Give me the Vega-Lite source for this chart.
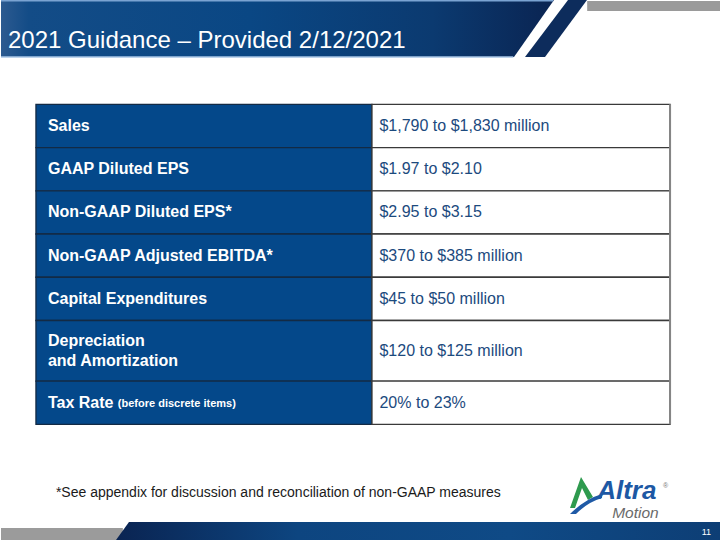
{
  "$schema": "https://vega.github.io/schema/vega-lite/v6.json",
  "width": 720,
  "height": 540,
  "autosize": {"type": "fit", "contains": "padding"},
  "padding": 0,
  "background": "#ffffff",
  "config": {"view": {"stroke": null}, "font": "Liberation Sans", "text": {"font": "Liberation Sans"}},
  "resolve": {"scale": {"y": "independent"}},
  "layer": [
    {
      "data": {"values": [{}]},
      "layer": [
        {
          "mark": {"type": "point", "shape": "M0,0 L553,0 L513,57 L0,57 Z", "size": 4, "filled": true, "opacity": 1, "strokeWidth": 0,
            "fill": {"gradient": "linear", "stops": [
              {"offset": 0, "color": "#2c5a90"}, {"offset": 0.05, "color": "#134c87"}, {"offset": 0.45, "color": "#0a4784"},
              {"offset": 0.78, "color": "#0b3a70"}, {"offset": 1, "color": "#0a2452"}]}},
          "encoding": {
            "x": {"datum": 0, "type": "quantitative", "scale": {"domain": [0, 720], "nice": false, "zero": false}, "axis": null},
            "y": {"datum": 0, "type": "quantitative", "scale": {"domain": [0, 540], "reverse": true, "nice": false, "zero": false}, "axis": null}
          }
        },
        {
          "mark": {"type": "point", "shape": "M567,0 L586,0 L544,57 L524,57 Z", "size": 4, "filled": true, "opacity": 1, "strokeWidth": 0, "fill": "#0d2c5c"},
          "encoding": {
            "x": {"datum": 0, "type": "quantitative", "scale": {"domain": [0, 720], "nice": false, "zero": false}, "axis": null},
            "y": {"datum": 0, "type": "quantitative", "scale": {"domain": [0, 540], "reverse": true, "nice": false, "zero": false}, "axis": null}
          }
        },
        {
          "mark": {"type": "rect", "fill": "#9a9a9a"},
          "encoding": {
            "x": {"datum": 587, "type": "quantitative", "scale": {"domain": [0, 720], "nice": false, "zero": false}, "axis": null},
            "x2": {"datum": 720},
            "y": {"datum": 1, "type": "quantitative", "scale": {"domain": [0, 540], "reverse": true, "nice": false, "zero": false}, "axis": null},
            "y2": {"datum": 11}
          }
        },
        {
          "mark": {"type": "rule", "stroke": "#a9c6e6", "strokeWidth": 1.5},
          "encoding": {
            "x": {"datum": 0, "type": "quantitative", "scale": {"domain": [0, 720], "nice": false, "zero": false}, "axis": null},
            "x2": {"datum": 513},
            "y": {"datum": 57, "type": "quantitative", "scale": {"domain": [0, 540], "reverse": true, "nice": false, "zero": false}, "axis": null}
          }
        },
        {
          "mark": {"type": "rule", "stroke": "#7aa3d2", "strokeWidth": 1.5},
          "encoding": {
            "x": {"datum": 0, "type": "quantitative", "scale": {"domain": [0, 720], "nice": false, "zero": false}, "axis": null},
            "x2": {"datum": 553},
            "y": {"datum": 0.75, "type": "quantitative", "scale": {"domain": [0, 540], "reverse": true, "nice": false, "zero": false}, "axis": null}
          }
        },
        {
          "mark": {"type": "text", "text": "2021 Guidance – Provided 2/12/2021", "align": "left", "baseline": "alphabetic", "fontSize": 24, "color": "#ffffff"},
          "encoding": {
            "x": {"datum": 7, "type": "quantitative", "scale": {"domain": [0, 720], "nice": false, "zero": false}, "axis": null},
            "y": {"datum": 47.5, "type": "quantitative", "scale": {"domain": [0, 540], "reverse": true, "nice": false, "zero": false}, "axis": null}
          }
        },
        {
          "mark": {"type": "text", "text": "*See appendix for discussion and reconciliation of non-GAAP measures", "align": "left", "baseline": "alphabetic", "fontSize": 14, "color": "#1a1a1a"},
          "encoding": {
            "x": {"datum": 55, "type": "quantitative", "scale": {"domain": [0, 720], "nice": false, "zero": false}, "axis": null},
            "y": {"datum": 497, "type": "quantitative", "scale": {"domain": [0, 540], "reverse": true, "nice": false, "zero": false}, "axis": null}
          }
        },
        {
          "mark": {"type": "rect", "fill": "#9b9b9b"},
          "encoding": {
            "x": {"datum": 0, "type": "quantitative", "scale": {"domain": [0, 720], "nice": false, "zero": false}, "axis": null},
            "x2": {"datum": 122},
            "y": {"datum": 528, "type": "quantitative", "scale": {"domain": [0, 540], "reverse": true, "nice": false, "zero": false}, "axis": null},
            "y2": {"datum": 540}
          }
        },
        {
          "mark": {"type": "point", "shape": "M128,522 L720,522 L720,540 L115,540 Z", "size": 4, "filled": true, "opacity": 1, "strokeWidth": 0,
            "fill": {"gradient": "linear", "stops": [
              {"offset": 0, "color": "#0a2452"}, {"offset": 0.3, "color": "#0d4580"}, {"offset": 0.65, "color": "#0f4a86"}, {"offset": 1, "color": "#0d3e75"}]}},
          "encoding": {
            "x": {"datum": 0, "type": "quantitative", "scale": {"domain": [0, 720], "nice": false, "zero": false}, "axis": null},
            "y": {"datum": 0, "type": "quantitative", "scale": {"domain": [0, 540], "reverse": true, "nice": false, "zero": false}, "axis": null}
          }
        },
        {
          "mark": {"type": "text", "text": "11", "align": "right", "baseline": "middle", "fontSize": 9, "color": "#ffffff"},
          "encoding": {
            "x": {"datum": 711, "type": "quantitative", "scale": {"domain": [0, 720], "nice": false, "zero": false}, "axis": null},
            "y": {"datum": 531.5, "type": "quantitative", "scale": {"domain": [0, 540], "reverse": true, "nice": false, "zero": false}, "axis": null}
          }
        },
        {
          "mark": {"type": "point", "shape": "M580,477 L569,508 L574,508 L581,488 L587,500 L592,497 Z", "size": 4, "filled": true, "opacity": 1, "strokeWidth": 0, "fill": "#2e9a4e"},
          "encoding": {
            "x": {"datum": 0, "type": "quantitative", "scale": {"domain": [0, 720], "nice": false, "zero": false}, "axis": null},
            "y": {"datum": 0, "type": "quantitative", "scale": {"domain": [0, 540], "reverse": true, "nice": false, "zero": false}, "axis": null}
          }
        },
        {
          "mark": {"type": "point", "shape": "M569,514 Q584,499 601,494 L601,498 Q587,502 575,514 Z", "size": 4, "filled": true, "opacity": 1, "strokeWidth": 0, "fill": "#1f5aa6"},
          "encoding": {
            "x": {"datum": 0, "type": "quantitative", "scale": {"domain": [0, 720], "nice": false, "zero": false}, "axis": null},
            "y": {"datum": 0, "type": "quantitative", "scale": {"domain": [0, 540], "reverse": true, "nice": false, "zero": false}, "axis": null}
          }
        },
        {
          "mark": {"type": "text", "text": "Altra", "align": "left", "baseline": "alphabetic", "fontSize": 26, "fontWeight": "bold", "fontStyle": "italic", "color": "#1d58a4"},
          "encoding": {
            "x": {"datum": 597, "type": "quantitative", "scale": {"domain": [0, 720], "nice": false, "zero": false}, "axis": null},
            "y": {"datum": 498.5, "type": "quantitative", "scale": {"domain": [0, 540], "reverse": true, "nice": false, "zero": false}, "axis": null}
          }
        },
        {
          "mark": {"type": "text", "text": "®", "align": "left", "baseline": "alphabetic", "fontSize": 7, "color": "#777777"},
          "encoding": {
            "x": {"datum": 663, "type": "quantitative", "scale": {"domain": [0, 720], "nice": false, "zero": false}, "axis": null},
            "y": {"datum": 488, "type": "quantitative", "scale": {"domain": [0, 540], "reverse": true, "nice": false, "zero": false}, "axis": null}
          }
        },
        {
          "mark": {"type": "text", "text": "Motion", "align": "left", "baseline": "alphabetic", "fontSize": 15.5, "fontStyle": "italic", "color": "#6a6a6a"},
          "encoding": {
            "x": {"datum": 612, "type": "quantitative", "scale": {"domain": [0, 720], "nice": false, "zero": false}, "axis": null},
            "y": {"datum": 517.5, "type": "quantitative", "scale": {"domain": [0, 540], "reverse": true, "nice": false, "zero": false}, "axis": null}
          }
        }
      ]
    },
    {
      "data": {"values": [
        {"order": 1, "item": "Sales", "note": "", "value": "$1,790 to $1,830 million", "lines": 1},
        {"order": 2, "item": "GAAP Diluted EPS", "note": "", "value": "$1.97 to $2.10", "lines": 1},
        {"order": 3, "item": "Non-GAAP Diluted EPS*", "note": "", "value": "$2.95 to $3.15", "lines": 1},
        {"order": 4, "item": "Non-GAAP Adjusted EBITDA*", "note": "", "value": "$370 to $385 million", "lines": 1},
        {"order": 5, "item": "Capital Expenditures", "note": "", "value": "$45 to $50 million", "lines": 1},
        {"order": 6, "item": "Depreciation\nand Amortization", "note": "", "value": "$120 to $125 million", "lines": 2},
        {"order": 7, "item": "Tax Rate", "note": "(before discrete items)", "value": "20% to 23%", "lines": 1}
      ]},
      "transform": [
        {"calculate": "datum.lines == 2 ? 1.4 : 1", "as": "span"},
        {"window": [{"op": "sum", "field": "span", "as": "bottom"}], "sort": [{"field": "order"}], "frame": [null, 0]},
        {"calculate": "datum.bottom - datum.span", "as": "top"},
        {"calculate": "datum.bottom - datum.span / 2", "as": "mid"},
        {"calculate": "datum.mid - (datum.lines - 1) * 0.2255", "as": "labelMid"}
      ],
      "layer": [
        {
          "mark": {"type": "rect", "fill": "#04488a", "stroke": "#132a44", "strokeWidth": 1.3},
          "encoding": {
            "x": {"datum": 35, "type": "quantitative", "scale": {"domain": [0, 720], "nice": false, "zero": false}, "axis": null},
            "x2": {"datum": 371.5},
            "y": {"field": "top", "type": "quantitative", "scale": {"domain": [-2.412, 10.076], "reverse": true, "nice": false, "zero": false}, "axis": null},
            "y2": {"field": "bottom"}
          }
        },
        {
          "mark": {"type": "rect", "fill": "#ffffff", "stroke": "#3a3a3a", "strokeWidth": 1.3},
          "encoding": {
            "x": {"datum": 371.5, "type": "quantitative", "scale": {"domain": [0, 720], "nice": false, "zero": false}, "axis": null},
            "x2": {"datum": 670},
            "y": {"field": "top", "type": "quantitative", "scale": {"domain": [-2.412, 10.076], "reverse": true, "nice": false, "zero": false}, "axis": null},
            "y2": {"field": "bottom"}
          }
        },
        {
          "mark": {"type": "rule", "stroke": "#858585", "strokeWidth": 2},
          "transform": [{"filter": "datum.order == 1"}],
          "encoding": {
            "x": {"datum": 670, "type": "quantitative", "scale": {"domain": [0, 720], "nice": false, "zero": false}, "axis": null},
            "y": {"datum": 0, "type": "quantitative", "scale": {"domain": [-2.412, 10.076], "reverse": true, "nice": false, "zero": false}, "axis": null},
            "y2": {"datum": 7.4}
          }
        },
        {
          "mark": {"type": "text", "align": "left", "baseline": "middle", "fontSize": 16, "fontWeight": "bold", "color": "#ffffff", "lineBreak": "\n", "lineHeight": 19.5},
          "encoding": {
            "x": {"datum": 47, "type": "quantitative", "scale": {"domain": [0, 720], "nice": false, "zero": false}, "axis": null},
            "y": {"field": "labelMid", "type": "quantitative", "scale": {"domain": [-2.412, 10.076], "reverse": true, "nice": false, "zero": false}, "axis": null},
            "text": {"field": "item", "type": "nominal"}
          }
        },
        {
          "mark": {"type": "text", "align": "left", "baseline": "middle", "fontSize": 11, "fontWeight": "bold", "color": "#ffffff", "dy": 1.5},
          "transform": [{"filter": "datum.note != ''"}],
          "encoding": {
            "x": {"datum": 117, "type": "quantitative", "scale": {"domain": [0, 720], "nice": false, "zero": false}, "axis": null},
            "y": {"field": "mid", "type": "quantitative", "scale": {"domain": [-2.412, 10.076], "reverse": true, "nice": false, "zero": false}, "axis": null},
            "text": {"field": "note", "type": "nominal"}
          }
        },
        {
          "mark": {"type": "text", "align": "left", "baseline": "middle", "fontSize": 16, "color": "#1c4a7e"},
          "encoding": {
            "x": {"datum": 379, "type": "quantitative", "scale": {"domain": [0, 720], "nice": false, "zero": false}, "axis": null},
            "y": {"field": "mid", "type": "quantitative", "scale": {"domain": [-2.412, 10.076], "reverse": true, "nice": false, "zero": false}, "axis": null},
            "text": {"field": "value", "type": "nominal"}
          }
        }
      ]
    }
  ]
}
